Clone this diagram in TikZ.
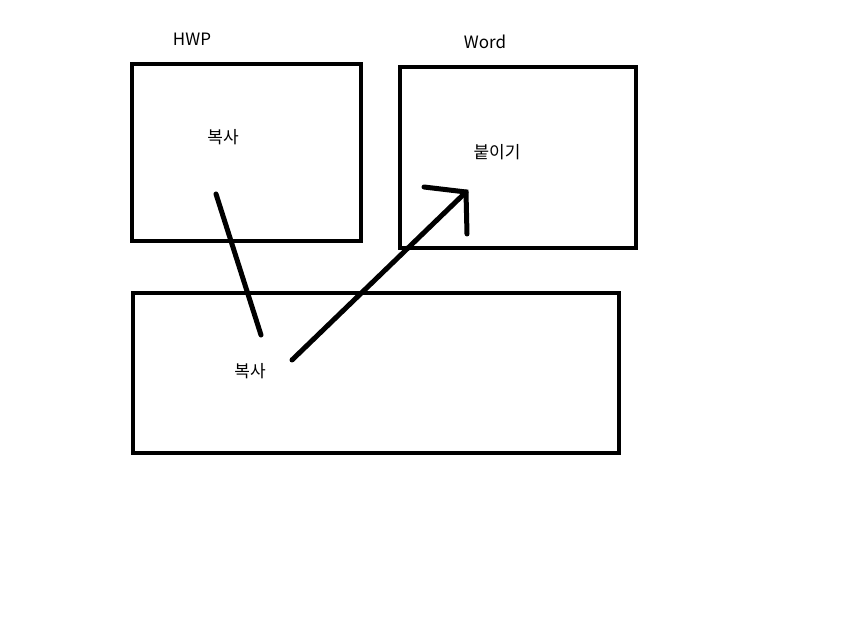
\documentclass[tikz,border=0pt]{standalone}
\usepackage{fontspec}
\setmainfont{Noto Sans CJK KR}
\begin{document}
\begin{tikzpicture}[x=1pt,y=-1pt,
  box/.style={draw=black,line width=4.5pt},
  stroke/.style={draw=black,line width=5pt,line cap=round},
  lbl/.style={inner sep=0pt,font=\fontsize{17}{20}\selectfont}]
\useasboundingbox[fill=white] (0,0) rectangle (857,628);
\draw[box] (132,64) rectangle (361,241);
\draw[box] (400,67) rectangle (636,248);
\draw[box] (133,293) rectangle (619,453);
\node[lbl] (hwp) at (192,39) {HWP};
\node[lbl] (word) at (485,42) {Word};
\node[lbl] (copy1) at (223,137) {복사};
\node[lbl] (paste) at (497,152) {붙이기};
\node[lbl] (copy2) at (250,371) {복사};
\coordinate (a1) at (216,194);
\coordinate (a2) at (261,335);
\coordinate (b1) at (292,360);
\coordinate (b2) at (466,192);
\coordinate (h1) at (424,187);
\coordinate (h2) at (467,234);
\draw[stroke] (a1) -- (a2);
\draw[stroke] (b1) -- (b2);
\draw[stroke] (h1) -- (b2) -- (h2);
\end{tikzpicture}
\end{document}
